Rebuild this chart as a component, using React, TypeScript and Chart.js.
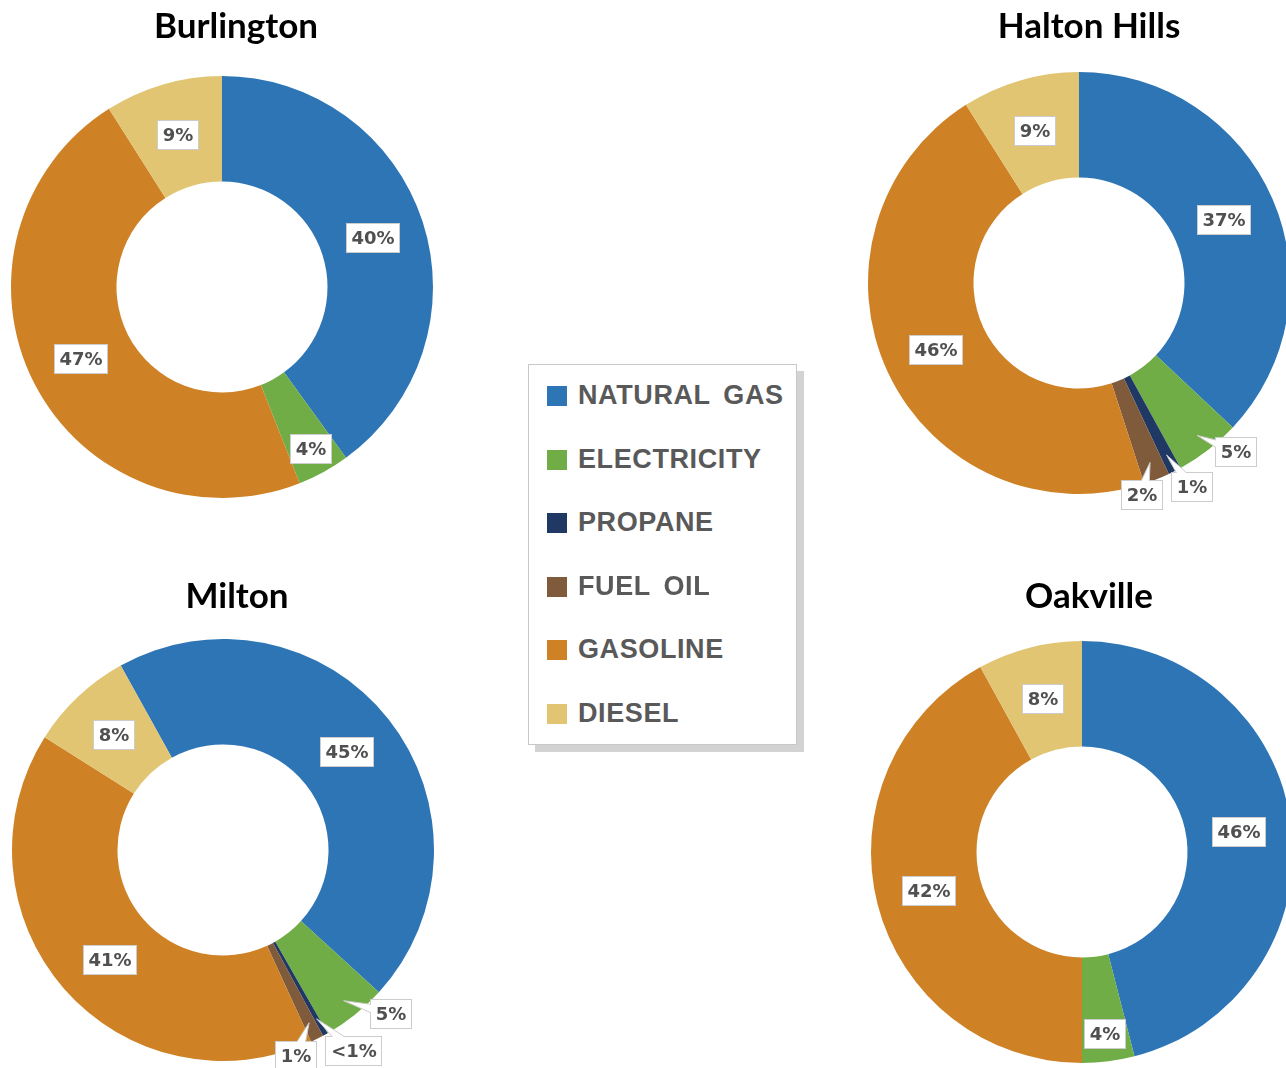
import React, { useEffect, useRef } from "react";
import { Chart, registerables } from "chart.js";

Chart.register(...registerables);

// ---------- data ----------
const categories = ["NATURAL GAS", "ELECTRICITY", "PROPANE", "FUEL OIL", "GASOLINE", "DIESEL"];
const colors = ["#2E75B6", "#70AD47", "#1F3864", "#7F5B3C", "#CF8225", "#E1C573"];

const burlington = [40, 4, 0, 0, 47, 9];
const haltonHills = [37, 5, 1, 2, 46, 9];
const milton = [45, 5, 0.4, 1, 41, 8];
const oakville = [46, 4, 0, 0, 42, 8];

// ---------- label placement (options, not data) ----------
type Place = { shift?: number; radius?: number; callout?: boolean };
type Placement = Record<number, Place>;

const burlingtonPlace: Placement = { 1: { radius: -26 } };
const haltonPlace: Placement = {
  1: { radius: 20, shift: -5, callout: true },
  2: { radius: 22, shift: -2, callout: true },
  3: { radius: 10, shift: 5, callout: true },
};
const miltonPlace: Placement = {
  1: { radius: 24, shift: -7, callout: true },
  2: { radius: 29, shift: -4, callout: true },
  3: { radius: 7, shift: 7, callout: true },
  4: { shift: -3 },
};
const oakvillePlace: Placement = { 1: { radius: -28 } };

const SIZE = 520;
const PAD = 49;

function labelPlugin(place: Placement) {
  return {
    id: "sliceLabels",
    afterDatasetsDraw(chart: any) {
      const ctx: CanvasRenderingContext2D = chart.ctx;
      const meta = chart.getDatasetMeta(0);
      const values = chart.data.datasets[0].data as number[];
      ctx.save();
      ctx.font = "700 18px 'DejaVu Sans'";
      ctx.textAlign = "center";
      ctx.textBaseline = "middle";
      meta.data.forEach((arc: any, i: number) => {
        const v = values[i];
        if (!v) return;
        const p = arc.getProps(["x", "y", "startAngle", "endAngle", "innerRadius", "outerRadius"], true);
        const o = place[i] || {};
        const mid = (p.startAngle + p.endAngle) / 2;
        const a = mid + ((o.shift || 0) * Math.PI) / 180;
        const r = o.radius != null ? p.outerRadius + o.radius : (p.innerRadius + p.outerRadius) / 2;
        const lx = Math.round(p.x + r * Math.cos(a));
        const ly = Math.round(p.y + r * Math.sin(a));
        const text = v < 1 ? "<1%" : Math.round(v) + "%";
        const w = Math.round(ctx.measureText(text).width + 11);
        const h = 30;
        const bx = lx - Math.round(w / 2);
        const by = ly - h / 2;
        ctx.fillStyle = "#ffffff";
        ctx.fillRect(bx, by, w, h);
        ctx.strokeStyle = "#cccccc";
        ctx.lineWidth = 1;
        ctx.strokeRect(bx + 0.5, by + 0.5, w - 1, h - 1);
        if (o.callout) {
          const tr = p.outerRadius - 18;
          const tx = p.x + tr * Math.cos(mid);
          const ty = p.y + tr * Math.sin(mid);
          const dx = tx - lx, dy = ty - ly;
          const len = Math.hypot(dx, dy) || 1;
          const nx = -dy / len, ny = dx / len;
          const bw = 7;
          ctx.beginPath();
          ctx.moveTo(lx + nx * bw, ly + ny * bw);
          ctx.lineTo(tx, ty);
          ctx.lineTo(lx - nx * bw, ly - ny * bw);
          ctx.closePath();
          ctx.fillStyle = "#ffffff";
          ctx.fill();
          ctx.save();
          ctx.beginPath();
          ctx.rect(0, 0, chart.width, chart.height);
          ctx.rect(bx + 1, by + 1, w - 2, h - 2);
          ctx.clip("evenodd");
          ctx.beginPath();
          ctx.moveTo(lx + nx * bw, ly + ny * bw);
          ctx.lineTo(tx, ty);
          ctx.lineTo(lx - nx * bw, ly - ny * bw);
          ctx.strokeStyle = "#cccccc";
          ctx.stroke();
          ctx.restore();
        }
        ctx.fillStyle = "#505050";
        ctx.fillText(text, lx, ly + 1);
      });
      ctx.restore();
    },
  };
}

function Donut(props: { values: number[]; place: Placement; rotation: number; left: number; top: number }) {
  const ref = useRef<HTMLCanvasElement | null>(null);
  useEffect(() => {
    if (!ref.current) return;
    const chart = new Chart(ref.current, {
      type: "doughnut",
      data: {
        labels: categories,
        datasets: [
          {
            data: props.values,
            backgroundColor: colors,
            borderWidth: 0,
          },
        ],
      },
      options: {
        responsive: false,
        maintainAspectRatio: false,
        animation: false,
        cutout: "50%",
        rotation: props.rotation,
        layout: { padding: PAD },
        plugins: {
          legend: { display: false },
          tooltip: { enabled: false },
        },
      },
      plugins: [labelPlugin(props.place)],
    } as any);
    return () => chart.destroy();
  }, []);
  return (
    <canvas
      ref={ref}
      width={SIZE}
      height={SIZE}
      style={{ position: "absolute", left: props.left, top: props.top, width: SIZE, height: SIZE }}
    />
  );
}

function Title(props: { text: string; cx: number; top: number }) {
  return (
    <div
      style={{
        position: "absolute",
        left: props.cx - 200,
        top: props.top,
        width: 400,
        textAlign: "center",
        fontFamily: "Lato",
        fontWeight: 700,
        fontSize: 35,
        lineHeight: "42px",
        color: "#000",
      }}
    >
      {props.text}
    </div>
  );
}

function Legend() {
  return (
    <div
      style={{
        position: "absolute",
        left: 528,
        top: 364,
        width: 269,
        height: 381,
        boxSizing: "border-box",
        border: "1px solid #c8c8c8",
        background: "#fff",
        boxShadow: "7px 7px 0 #d3d3d3",
      }}
    >
      {categories.map((c, i) => (
        <div key={c} style={{ position: "absolute", left: 0, top: 31 + i * 63.6 - 15, height: 30, width: 268 }}>
          <div
            style={{
              position: "absolute",
              left: 18,
              top: 5,
              width: 20,
              height: 20,
              background: colors[i],
            }}
          />
          <div
            style={{
              position: "absolute",
              left: 49,
              top: -1,
              lineHeight: "30px",
              fontFamily: "'Liberation Sans', Arial, sans-serif",
              fontWeight: 700,
              fontSize: 27,
              letterSpacing: 0.6,
              wordSpacing: 5,
              color: "#595959",
              whiteSpace: "nowrap",
            }}
          >
            {c}
          </div>
        </div>
      ))}
    </div>
  );
}

export default function App() {
  return (
    <div
      style={{
        position: "absolute",
        left: 0,
        top: 0,
        width: 1286,
        height: 1068,
        overflow: "hidden",
        background: "#fff",
      }}
    >
      <Donut values={burlington} place={burlingtonPlace} rotation={0} left={222 - SIZE / 2} top={287 - SIZE / 2} />
      <Donut values={haltonHills} place={haltonPlace} rotation={0} left={1079 - SIZE / 2} top={283 - SIZE / 2} />
      <Donut values={milton} place={miltonPlace} rotation={-29} left={223 - SIZE / 2} top={850 - SIZE / 2} />
      <Donut values={oakville} place={oakvillePlace} rotation={0} left={1082 - SIZE / 2} top={852 - SIZE / 2} />
      <Title text="Burlington" cx={236} top={3} />
      <Title text="Halton Hills" cx={1089} top={3} />
      <Title text="Milton" cx={237} top={573} />
      <Title text="Oakville" cx={1089} top={573} />
      <Legend />
    </div>
  );
}
